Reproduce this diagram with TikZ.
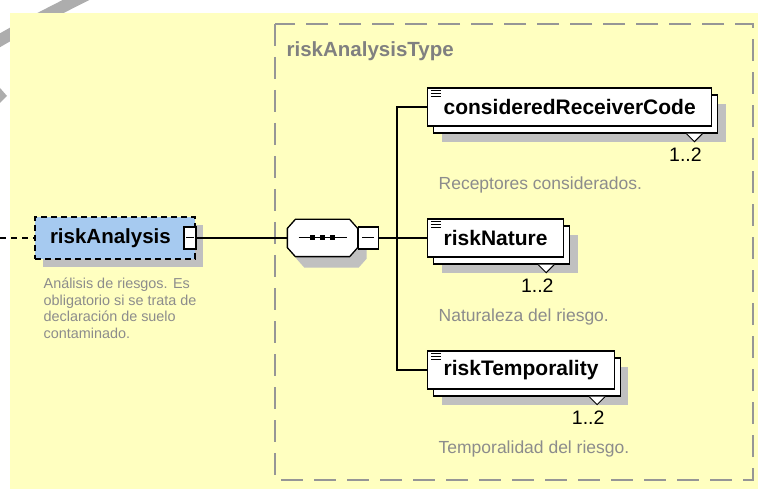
\documentclass[tikz,border=0pt]{standalone}
\usepackage{fontspec}
\setmainfont{Liberation Sans}
\usepackage{tikz}
\usetikzlibrary{positioning,shadows}
\definecolor{bgyellow}{RGB}{255,255,192}
\definecolor{boxblue}{RGB}{166,202,240}
\definecolor{shadowgray}{RGB}{192,192,192}
\definecolor{framegray}{RGB}{150,150,150}
\definecolor{titlegray}{RGB}{128,128,128}
\definecolor{notegray}{RGB}{140,140,140}

\begin{document}
\begin{tikzpicture}[x=1pt,y=-1pt,line width=1.3pt,
    elem/.style={draw,fill=white,inner xsep=16pt,inner ysep=0pt,minimum height=38pt,anchor=west,
      font=\fontsize{21}{24}\selectfont\bfseries,
      drop shadow={shadow xshift=14pt,shadow yshift=-16pt,fill=shadowgray,opacity=1},
      copy shadow={shadow xshift=6pt,shadow yshift=-7pt,fill=white,draw=black}},
    note/.style={text=notegray,inner sep=0pt,anchor=base west,font=\fontsize{17.5}{20}\selectfont},
    mult/.style={inner sep=0pt,anchor=base east,font=\fontsize{19.5}{22}\selectfont},
    minusbox/.style={draw,fill=white,inner sep=0pt,minimum height=22pt},
    octagon/.style 2 args={insert path={([shift={(8+#1,#2)}]seq.north west)
      -- ([shift={(-8+#1,#2)}]seq.north east) -- ([shift={(#1,9+#2)}]seq.north east)
      -- ([shift={(#1,-9+#2)}]seq.south east) -- ([shift={(-8+#1,#2)}]seq.south east)
      -- ([shift={(8+#1,#2)}]seq.south west) -- ([shift={(#1,-9+#2)}]seq.south west)
      -- ([shift={(#1,9+#2)}]seq.north west) -- cycle}}]
  \useasboundingbox (0,0) rectangle (758,489);
  \fill[white] (0,0) rectangle (758,489);
  % grey stroke behind the panel
  \draw[shadowgray!90!black,line width=12pt] (92,-8) .. controls (60,8) and (20,28) .. (-8,45);
  \fill[shadowgray!90!black] (0,88) -- (7,96) -- (0,103) -- cycle;
  \fill[bgyellow] (10,13) rectangle (758,489);

  % complex type frame
  \draw[framegray,line width=1.5pt,dash pattern=on 22pt off 11pt] (275,24) rectangle (753,480);
  \node[anchor=base west,inner sep=0pt,text=titlegray,font=\fontsize{20.5}{24}\selectfont\bfseries]
    (typeTitle) at (286,57) {riskAnalysisType};

  % element riskAnalysis
  \coordinate (start) at (0,238);
  \node[draw,fill=boxblue,dash pattern=on 6pt off 4pt,text width=130pt,align=left,inner xsep=15pt,
    minimum height=42pt,font=\fontsize{20.5}{24}\selectfont\bfseries,
    drop shadow={shadow xshift=8pt,shadow yshift=-8pt,fill=shadowgray,opacity=1}]
    (ra) at (115,238) {riskAnalysis};
  \node[minusbox,minimum width=12pt] (raMinus) at (190,238) {};
  \draw[line width=1pt] ([shift={(-4,0)}]raMinus.center) -- ([shift={(4,0)}]raMinus.center);
  \node[note,anchor=north west,align=left,font=\fontsize{14.4}{16.8}\selectfont] (raNote) at (43,277)
    {Análisis de riesgos. Es\\obligatorio si se trata de\\declaración de suelo\\contaminado.};

  % sequence
  \node[inner sep=0pt,minimum width=69pt,minimum height=36pt] (seq) at (322.5,238) {};
  \fill[shadowgray,octagon={9}{11}];
  \draw[fill=white,octagon={0}{0}];
  \draw[line width=1pt] ([shift={(-24,0)}]seq.center) -- ([shift={(24,0)}]seq.center);
  \foreach \dx in {-10,0,10}
    \fill ([shift={(\dx-2.5,-2.5)}]seq.center) rectangle ++(5,5);
  \node[minusbox,minimum width=20pt,anchor=west] (seqMinus) at (seq.east) {};
  \draw[line width=1pt] ([shift={(-6,0)}]seqMinus.center) -- ([shift={(6,0)}]seqMinus.center);
  \coordinate (fork) at (397,238);

  % child elements
  \node[elem] (crc) at (427,107) {consideredReceiverCode};
  \node[elem] (nat) at (427,238) {riskNature};
  \node[elem] (tmp) at (427,370) {riskTemporality};
  \foreach \n in {crc,nat,tmp}{
    \draw[fill=white,line width=1pt] ([shift={(-26,7)}]\n.south east) -- ([shift={(-18,15)}]\n.south east)
      -- ([shift={(-10,7)}]\n.south east);
    \node[mult] (\n Mult) at ([shift={(-10,35)}]\n.south east) {1..2};
    \foreach \d in {3,6,9}
      \draw[line width=1pt] ([shift={(4,\d)}]\n.north west) -- ++(10,0);
  }
  \node[note] (crcNote) at ([shift={(11,83)}]crc.west) {Receptores considerados.};
  \node[note] (natNote) at ([shift={(11,83)}]nat.west) {Naturaleza del riesgo.};
  \node[note] (tmpNote) at ([shift={(11,83)}]tmp.west) {Temporalidad del riesgo.};

  % connectors
  \draw[dash pattern=on 6pt off 5pt] (start) -- (ra);
  \draw (raMinus) -- (seq);
  \draw (seqMinus) -- (fork);
  \draw (fork) |- (crc);
  \draw (fork) -- (nat);
  \draw (fork) |- (tmp);
\end{tikzpicture}
\end{document}
